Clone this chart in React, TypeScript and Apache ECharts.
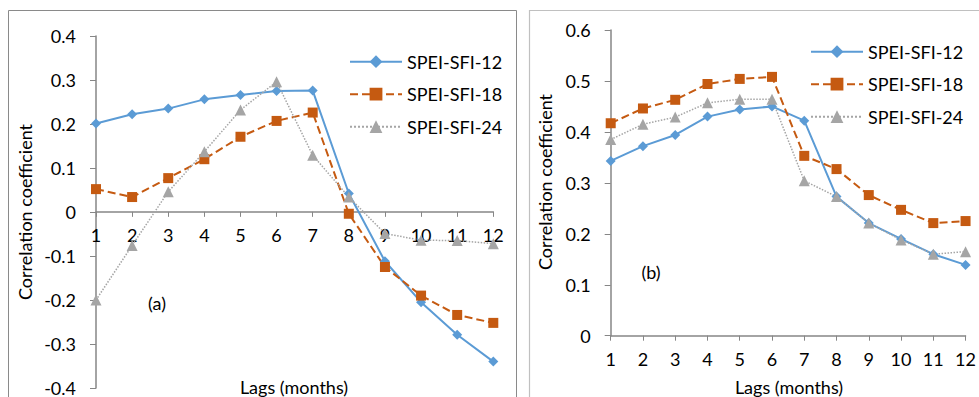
import React, { useEffect, useRef } from "react";
import * as echarts from "echarts";

const lags = ["1", "2", "3", "4", "5", "6", "7", "8", "9", "10", "11", "12"];
const seriesNames = ["SPEI-SFI-12", "SPEI-SFI-18", "SPEI-SFI-24"];

// Panel (a)
const a12 = [0.201, 0.222, 0.235, 0.256, 0.266, 0.275, 0.276, 0.042, -0.112, -0.205, -0.279, -0.34];
const a18 = [0.052, 0.034, 0.077, 0.12, 0.171, 0.207, 0.226, -0.004, -0.125, -0.19, -0.234, -0.252];
const a24 = [-0.2, -0.076, 0.046, 0.137, 0.232, 0.296, 0.129, 0.034, -0.049, -0.064, -0.065, -0.072];

// Panel (b)
const b12 = [0.343, 0.372, 0.394, 0.43, 0.444, 0.45, 0.422, 0.273, 0.221, 0.19, 0.16, 0.139];
const b18 = [0.417, 0.446, 0.463, 0.494, 0.504, 0.508, 0.353, 0.327, 0.276, 0.247, 0.221, 0.225];
const b24 = [0.385, 0.415, 0.429, 0.457, 0.464, 0.464, 0.304, 0.273, 0.221, 0.188, 0.16, 0.165];

const FONT = "Lato";
const BLUE = "#5B9BD5";
const ORANGE = "#C55A11";
const GRAY = "#A5A5A5";
const AXIS = "#868686";

export default function App() {
  const ref = useRef<HTMLDivElement>(null);
  useEffect(() => {
    if (!ref.current) return;
    const chart = echarts.init(ref.current, undefined, { renderer: "svg" });
    const styles = [
      { color: BLUE, type: "solid", width: 2, symbol: "diamond", size: 10 },
      { color: ORANGE, type: "dashed", width: 2, symbol: "rect", size: 10 },
      { color: GRAY, type: "dotted", width: 1.5, symbol: "triangle", size: 11 },
    ];
    const mk = (name: string, data: number[], idx: number, s: any) => ({
      type: "line",
      name,
      data,
      xAxisIndex: idx,
      yAxisIndex: idx,
      symbol: s.symbol,
      symbolSize: s.size,
      itemStyle: { color: s.color },
      lineStyle: { color: s.color, type: s.type, width: s.width },
      z: 3,
    });
    const xAxisCommon = {
      type: "category",
      data: lags,
      boundaryGap: false,
      position: "bottom",
      axisTick: { show: true, length: 5, lineStyle: { color: AXIS } },
      axisLabel: { color: "#000", fontFamily: FONT, fontSize: 18, margin: 14 },
      splitLine: { show: false },
    };
    const yAxisCommon = {
      type: "value",
      interval: 0.1,
      axisLine: { show: true, onZero: false, lineStyle: { color: AXIS, width: 1.5 } },
      axisTick: { show: true, length: 6, lineStyle: { color: AXIS } },
      axisLabel: { color: "#000", fontFamily: FONT, fontSize: 18, margin: 20 },
      splitLine: { show: false },
    };
    const legendCommon = {
      orient: "vertical",
      data: seriesNames,
      padding: 0,
      itemWidth: 52,
      itemHeight: 16,
      itemGap: 12.5,
      textStyle: { color: "#000", fontFamily: FONT, fontSize: 18, lineHeight: 20 },
      selectedMode: false,
    };
    const txt = (text: string, x: number, y: number, rotation = 0) => ({
      type: "text",
      x,
      y,
      rotation,
      style: {
        text,
        fill: "#000",
        font: `18px ${FONT}`,
        textAlign: "center",
        textVerticalAlign: "middle",
      },
    });
    const gridA = { left: 96, top: 36, width: 397.3, height: 352.3 };
    const gridB = { left: 610.7, top: 30, width: 357.6, height: 305.7 };
    chart.setOption({
      animation: false,
      backgroundColor: "#fff",
      grid: [gridA, gridB],
      xAxis: [
        {
          ...xAxisCommon,
          gridIndex: 0,
          offset: -gridA.height / 2,
          axisLine: { show: true, onZero: false, lineStyle: { color: AXIS, width: 1.5 } },
        },
        {
          ...xAxisCommon,
          gridIndex: 1,
          axisLine: { show: true, onZero: false, lineStyle: { color: AXIS, width: 1.5 } },
        },
      ],
      yAxis: [
        { ...yAxisCommon, gridIndex: 0, min: -0.4, max: 0.4 },
        { ...yAxisCommon, gridIndex: 1, min: 0, max: 0.6 },
      ],
      legend: [
        { ...legendCommon, left: 349, top: 51.7 },
        { ...legendCommon, left: 810, top: 41.7 },
      ],
      series: [
        mk(seriesNames[0], a12, 0, styles[0]),
        mk(seriesNames[1], a18, 0, styles[1]),
        mk(seriesNames[2], a24, 0, styles[2]),
        mk(seriesNames[0], b12, 1, styles[0]),
        mk(seriesNames[1], b18, 1, styles[1]),
        mk(seriesNames[2], b24, 1, styles[2]),
      ],
      graphic: [
        {
          type: "rect",
          shape: { x: 8.5, y: 10.5, width: 508, height: 400 },
          style: { fill: "none", stroke: "#8a8a8a", lineWidth: 1 },
          silent: true,
        },
        {
          type: "rect",
          shape: { x: 529.5, y: 10.5, width: 470, height: 400 },
          style: { fill: "none", stroke: "#c0c0c0", lineWidth: 1.2 },
          silent: true,
        },
        txt("Correlation coefficient", 25, 212, Math.PI / 2),
        txt("Correlation coefficient", 545, 182, Math.PI / 2),
        txt("Lags (months)", 294, 387),
        txt("Lags (months)", 789, 387),
        txt("(a)", 157, 303),
        txt("(b)", 651, 272),
      ],
    });
    return () => chart.dispose();
  }, []);
  return (
    <div
      ref={ref}
      style={{ position: "fixed", left: 0, top: 0, width: 979, height: 397 }}
    />
  );
}
